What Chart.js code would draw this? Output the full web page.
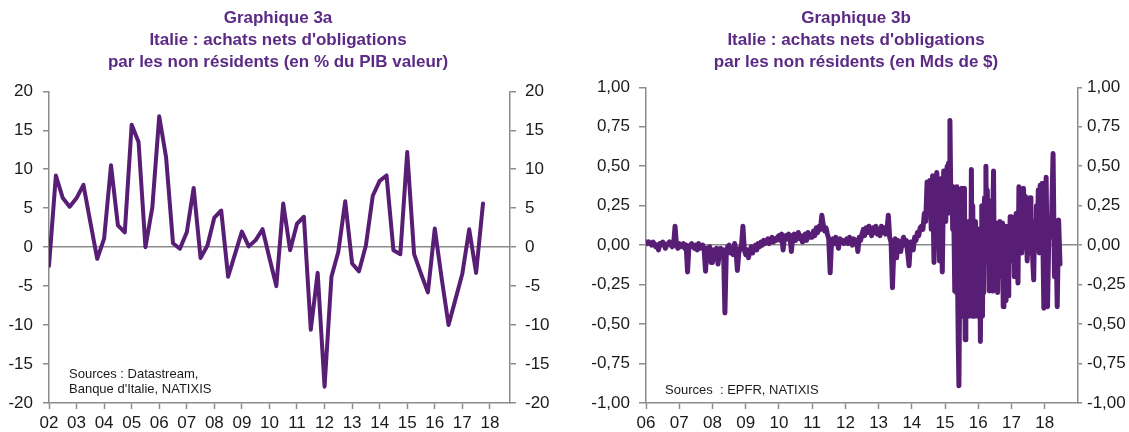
<!DOCTYPE html>
<html>
<head>
<meta charset="utf-8">
<script src="https://cdn.jsdelivr.net/npm/chart.js@4.4.1/dist/chart.umd.min.js"></script>
<style>
html, body { margin: 0; padding: 0; background: #fff; }
#wrap { position: relative; width: 1129px; height: 432px; overflow: hidden; }
canvas { position: absolute; top: 0; }
</style>
</head>
<body>
<div id="wrap">
  <canvas id="chartA" width="556" height="432" style="left:0px"></canvas>
  <canvas id="chartB" width="546" height="432" style="left:583px"></canvas>
</div>
<script>
// Textes
const titleA = ['Graphique 3a', "Italie : achats nets d'obligations", 'par les non résidents (en % du PIB valeur)'];
const titleB = ['Graphique 3b', "Italie : achats nets d'obligations", 'par les non résidents (en Mds de $)'];
const sourcesA = ['Sources : Datastream,', "Banque d'Italie, NATIXIS"];
const sourcesB = ['Sources  : EPFR, NATIXIS'];

// Graphique 3a : trimestriel, 2002T1 -> 2017T4 (% du PIB)
const yearsA = [2002, 2003, 2004, 2005, 2006, 2007, 2008, 2009, 2010, 2011, 2012, 2013, 2014, 2015, 2016, 2017, 2018];
const yearLabelsA = ['02', '03', '04', '05', '06', '07', '08', '09', '10', '11', '12', '13', '14', '15', '16', '17', '18'];
const achatsPib = [
  -2.4, 9.2, 6.3, 5.2, 6.3, 8.0, 3.2, -1.5,
  1.1, 10.5, 2.8, 1.9, 15.7, 13.5, 0.0, 5.1,
  16.8, 11.5, 0.5, -0.2, 1.9, 7.6, -1.4, 0.2,
  3.8, 4.7, -3.8, -0.9, 2.0, 0.1, 0.9, 2.3,
  -1.4, -5.0, 5.6, -0.4, 3.0, 3.9, -10.6, -3.3,
  -17.9, -3.8, -0.6, 5.9, -2.1, -3.1, 0.2, 6.6,
  8.5, 9.2, -0.4, -0.9, 12.2, -0.9, -3.4, -5.8,
  2.4, -4.0, -10.0, -6.7, -3.4, 2.3, -3.3, 5.6
];
const ticksA = [-20, -15, -10, -5, 0, 5, 10, 15, 20];

// Graphique 3b : flux EPFR (Mds $)
const yearsB = [2006, 2007, 2008, 2009, 2010, 2011, 2012, 2013, 2014, 2015, 2016, 2017, 2018];
const yearLabelsB = ['06', '07', '08', '09', '10', '11', '12', '13', '14', '15', '16', '17', '18'];
const relevesParAn = [24, 24, 24, 24, 24, 24, 24, 24, 24, 48, 48, 36, 24];
const flux2006 = [0.02, 0.01, 0.02, 0.01, 0.00, 0.02, 0.01, -0.01, 0.00, -0.03, 0.01, 0.00, 0.02, 0.01, -0.02, 0.00, 0.01, 0.02, 0.00, -0.01, 0.01, 0.12, 0.00, -0.02];
const flux2007 = [0.01, -0.01, 0.00, 0.01, -0.02, 0.00, -0.17, -0.01, 0.00, 0.01, -0.01, -0.02, 0.00, -0.03, 0.01, -0.02, -0.01, 0.00, -0.03, -0.165, -0.02, -0.05, -0.01, -0.11];
const flux2008 = [-0.11, -0.03, -0.08, -0.02, -0.12, -0.05, -0.02, -0.07, -0.03, -0.43, -0.04, -0.01, 0.00, -0.05, -0.02, -0.06, 0.01, -0.03, -0.16, -0.05, -0.02, 0.00, 0.12, -0.03];
const flux2009 = [-0.06, -0.03, -0.08, -0.04, -0.01, -0.05, -0.02, 0.00, -0.03, 0.01, -0.01, 0.02, 0.00, 0.03, 0.01, 0.02, 0.04, 0.01, 0.03, 0.05, 0.02, 0.04, 0.03, 0.05];
const flux2010 = [0.06, 0.03, 0.07, -0.03, 0.05, 0.06, 0.04, 0.07, 0.05, -0.04, 0.06, 0.07, 0.03, 0.05, 0.08, 0.04, 0.06, 0.02, 0.05, 0.07, 0.03, 0.08, 0.06, 0.05];
const flux2011 = [0.05, 0.09, 0.06, 0.11, 0.08, 0.12, 0.10, 0.19, 0.13, 0.09, 0.11, 0.07, 0.04, -0.175, 0.02, 0.04, 0.01, 0.05, 0.03, -0.02, 0.04, 0.02, 0.03, 0.01];
const flux2012 = [0.02, 0.04, 0.01, 0.05, 0.03, 0.00, 0.04, 0.02, 0.03, -0.04, 0.05, 0.03, 0.07, 0.10, 0.06, 0.11, 0.08, 0.12, 0.09, 0.06, 0.11, 0.08, 0.12, 0.07];
const flux2013 = [0.10, 0.06, 0.12, 0.08, 0.11, 0.07, 0.09, 0.19, 0.05, 0.02, -0.27, -0.02, 0.04, -0.08, 0.03, 0.01, -0.04, 0.02, 0.05, 0.00, 0.03, -0.05, -0.13, 0.02];
const flux2014 = [0.02, -0.03, 0.05, 0.03, 0.08, 0.06, 0.11, 0.12, 0.10, 0.20, 0.15, 0.40, 0.22, 0.41, 0.10, 0.44, -0.11, 0.38, 0.46, 0.30, -0.10, 0.42, -0.17, 0.47];
const flux2015 = [
  0.47, 0.15, 0.42, 0.50, 0.20, 0.52, 0.35, 0.79, 0.40, 0.27, 0.37, 0.10,
  0.37, 0.05, -0.29, 0.10, -0.30, 0.37, -0.20, -0.60, -0.89, -0.30, 0.10, -0.45,
  0.36, -0.40, 0.10, -0.45, 0.36, -0.60, 0.05, -0.45, 0.10, -0.40, 0.15, -0.45,
  0.10, -0.30, 0.48, -0.45, 0.25, -0.40, 0.10, -0.45, 0.15, -0.35, 0.08, -0.45
];
const flux2016 = [
  0.10, -0.45, 0.05, -0.61, -0.10, 0.25, -0.45, 0.10, -0.30, 0.30, -0.10, 0.50,
  -0.05, 0.35, -0.10, 0.15, -0.29, 0.28, -0.05, 0.10, -0.29, 0.20, 0.47, -0.15,
  0.10, -0.20, 0.14, -0.05, -0.30, 0.10, -0.12, 0.15, -0.05, 0.10, -0.20, 0.14,
  -0.39, -0.10, 0.05, -0.35, 0.12, -0.15, 0.05, -0.32, 0.10, -0.10, 0.18, -0.05
];
const flux2017 = [
  0.18, -0.10, 0.10, -0.20, 0.05, 0.20, -0.05, -0.24, 0.37, 0.05, 0.25, -0.05,
  0.10, 0.36, 0.00, 0.31, 0.10, -0.10, 0.20, 0.05, 0.30, -0.05, 0.10, -0.10,
  -0.22, 0.15, 0.00, 0.25, 0.08, 0.35, -0.05, 0.38, 0.10, 0.39, 0.00, -0.40
];
const flux2018 = [0.15, 0.43, -0.39, 0.10, 0.05, 0.20, 0.58, -0.20, 0.10, -0.39, 0.16, -0.12];
const fluxParAnnee = [flux2006, flux2007, flux2008, flux2009, flux2010, flux2011, flux2012, flux2013, flux2014, flux2015, flux2016, flux2017, flux2018];
const ticksB = [-1, -0.75, -0.5, -0.25, 0, 0.25, 0.5, 0.75, 1];

// Styles
const violet = '#581d74';
const violetTitre = '#5b2a84';
const gris = '#8c8c8c';
const police = '"Liberation Sans", Arial, sans-serif';

// Points
const pointsA = achatsPib.map((v, i) => ({ x: 2002 + i / 4, y: v }));
const pointsB = [];
fluxParAnnee.forEach((vals, k) => {
    vals.forEach((v, i) => pointsB.push({ x: yearsB[k] + i / relevesParAn[k], y: v }));
});

// Texte des sources
const sourcesPlugin = {
    id: 'sources',
    afterDraw(chart, args, opts) {
        const ctx = chart.ctx;
        ctx.save();
        ctx.font = '13px ' + police;
        ctx.fillStyle = '#1a1a1a';
        ctx.textBaseline = 'alphabetic';
        opts.lines.forEach((t, i) => {
            ctx.fillText(t, chart.chartArea.left + opts.dx, chart.chartArea.bottom - opts.dy + i * 15);
        });
        ctx.restore();
    }
};

function makeChart(id, cfg) {
    const yAxis = (pos, width, pad, tl) => ({
        type: 'linear', position: pos, min: cfg.ticks[0], max: cfg.ticks[cfg.ticks.length - 1],
        afterBuildTicks: s => { s.ticks = cfg.ticks.map(v => ({ value: v })); },
        afterFit: s => { s.width = width; },
        border: { display: true, color: gris, width: 1.5 },
        grid: {
            drawOnChartArea: pos === 'left',
            color: c => (c.tick && c.tick.value === 0) ? gris : 'rgba(0,0,0,0)',
            lineWidth: 1.5, tickColor: gris, tickWidth: 1.5, tickLength: tl
        },
        ticks: { color: '#1a1a1a', padding: pad, font: { family: police, size: 17 }, callback: cfg.fmt }
    });
    return new Chart(document.getElementById(id), {
        type: 'line',
        data: { datasets: [{ data: cfg.points, borderColor: violet, borderWidth: cfg.lw, pointRadius: 0, tension: 0, fill: false, borderJoinStyle: 'round', borderCapStyle: 'round' }] },
        options: {
            responsive: false, animation: false,
            layout: { padding: 0 },
            plugins: {
                legend: { display: false }, tooltip: { enabled: false },
                title: {
                    display: true, text: cfg.title, color: violetTitre,
                    font: { family: police, size: 17, weight: 'bold', lineHeight: 1.3 },
                    padding: { top: 7, bottom: cfg.titleGap }
                },
                sources: { lines: cfg.sources, dx: cfg.srcDx, dy: cfg.srcDy }
            },
            scales: {
                x: {
                    type: 'linear', min: cfg.xmin, max: cfg.xmax,
                    afterBuildTicks: s => { s.ticks = cfg.years.map(v => ({ value: v })); },
                    afterFit: s => { s.height = 29; },
                    border: { display: true, color: gris, width: 1.5 },
                    grid: { drawOnChartArea: false, tickColor: gris, tickWidth: 1.5, tickLength: 6 },
                    ticks: { color: '#1a1a1a', padding: 4, maxRotation: 0, font: { family: police, size: 17 },
                        callback: (v, i) => cfg.yearLabels[i] }
                },
                y: yAxis('left', cfg.leftW, cfg.padL, cfg.tlL),
                y2: yAxis('right', cfg.rightW, cfg.padR, cfg.tlR)
            }
        },
        plugins: [sourcesPlugin]
    });
}

makeChart('chartA', {
    points: pointsA, title: titleA, sources: sourcesA, srcDx: 20, srcDy: 25,
    years: yearsA, yearLabels: yearLabelsA, xmin: 2002, xmax: 2018.73,
    ticks: ticksA, fmt: v => String(v), lw: 4,
    leftW: 49, rightW: 46, padL: 10, padR: 9, tlL: 6, tlR: 6, titleGap: 18
});

makeChart('chartB', {
    points: pointsB, title: titleB, sources: sourcesB, srcDx: 19, srcDy: 9,
    years: yearsB, yearLabels: yearLabelsB, xmin: 2006, xmax: 2019,
    ticks: ticksB, fmt: v => v.toFixed(2).replace('.', ','), lw: 5,
    leftW: 63, rightW: 51, padL: 9, padR: 5, tlL: 7, tlR: 4, titleGap: 14
});
</script>
</body>
</html>
